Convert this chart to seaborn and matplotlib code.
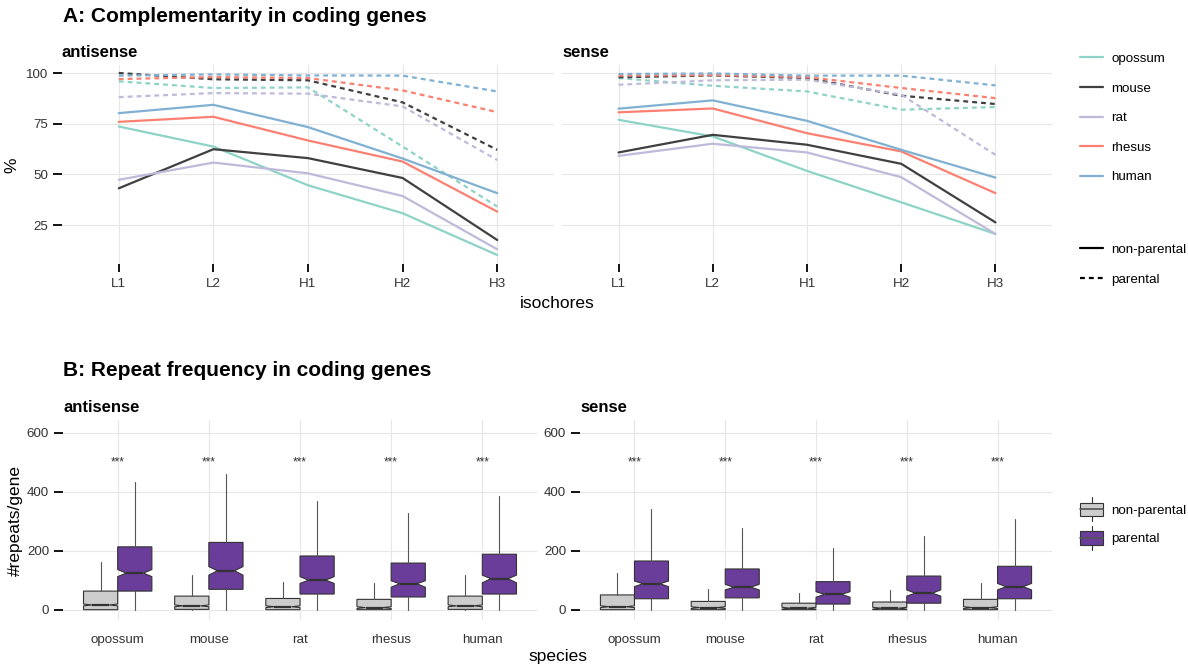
import numpy as np
import pandas as pd
import matplotlib
matplotlib.use("Agg")
import matplotlib.pyplot as plt
import seaborn as sns
from matplotlib.lines import Line2D
from matplotlib.patches import Rectangle, Patch
from matplotlib.legend_handler import HandlerBase

# ---- datos ----
species = ["opossum", "mouse", "rat", "rhesus", "human"]
isochores = ["L1", "L2", "H1", "H2", "H3"]
species_colors = ["#8DD3C7", "#404040", "#BEBADA", "#FB8072", "#80B1D3"]

# A: % complementariedad por isocora
anti_nonparental = {
    "opossum": [73.6, 63.7, 44.6, 30.8, 10.2],
    "mouse": [43.1, 62.4, 58.0, 48.2, 17.6],
    "rat": [47.3, 55.8, 50.5, 39.3, 13.0],
    "rhesus": [75.9, 78.4, 66.7, 56.3, 31.6],
    "human": [80.2, 84.3, 73.3, 57.8, 40.7],
}
anti_parental = {
    "opossum": [95.9, 92.6, 92.9, 63.7, 34.1],
    "mouse": [100.0, 96.9, 96.4, 85.5, 62.1],
    "rat": [88.1, 90.1, 89.8, 83.5, 57.1],
    "rhesus": [97.0, 98.0, 97.5, 91.4, 80.7],
    "human": [98.7, 99.3, 98.8, 98.7, 90.9],
}
sense_nonparental = {
    "opossum": [76.9, 68.7, 51.7, 36.2, 20.6],
    "mouse": [60.8, 69.5, 64.6, 55.2, 26.3],
    "rat": [59.1, 65.1, 60.8, 48.6, 20.6],
    "rhesus": [80.6, 82.5, 70.3, 61.3, 40.7],
    "human": [82.4, 86.5, 76.4, 62.1, 48.4],
}
sense_parental = {
    "opossum": [97.5, 93.7, 90.9, 81.9, 83.2],
    "mouse": [97.9, 98.8, 97.5, 88.8, 84.7],
    "rat": [94.2, 96.4, 96.7, 89.3, 59.6],
    "rhesus": [98.7, 99.0, 98.0, 92.6, 87.6],
    "human": [99.5, 99.8, 98.7, 98.7, 93.9],
}

# B: resumen de boxplots (#repeats/gene)
anti_np = dict(whislo=[0, 0, 0, 0, 0], q1=[1, 2, 1, 1, 2], med=[17, 14, 11, 8, 14],
               q3=[64, 47, 39, 36, 47], whishi=[161, 118, 96, 90, 118],
               cilo=[14, 11, 8, 5, 11], cihi=[20, 17, 14, 11, 17])
anti_p = dict(whislo=[0, 0, 0, 0, 0], q1=[64, 70, 54, 44, 54], med=[125, 133, 101, 89, 106],
              q3=[214, 229, 183, 159, 189], whishi=[434, 462, 370, 329, 386],
              cilo=[113, 118, 90, 77, 92], cihi=[137, 147, 113, 99, 118])
sense_np = dict(whislo=[0, 0, 0, 0, 0], q1=[1, 1, 1, 1, 1], med=[11, 8, 6, 6, 8],
                q3=[51, 29, 23, 27, 36], whishi=[126, 71, 59, 68, 90],
                cilo=[8, 5, 3, 3, 5], cihi=[14, 11, 9, 9, 11])
sense_p = dict(whislo=[0, 0, 0, 0, 0], q1=[38, 41, 20, 23, 38], med=[89, 77, 53, 57, 79],
               q3=[166, 139, 96, 115, 148], whishi=[342, 279, 211, 252, 308],
               cilo=[79, 68, 43, 47, 68], cihi=[98, 87, 62, 68, 90])
signif_anti = ["***", "***", "***", "***", "***"]
signif_sense = ["***", "***", "***", "***", "***"]

groups = ["non-parental", "parental"]
group_fill = {"non-parental": "#CCCCCC", "parental": "#6A3D9A"}

sns.set_theme(style="whitegrid")
plt.rcParams["font.family"] = ["Liberation Sans", "DejaVu Sans"]
plt.rcParams["text.color"] = "black"

W, H = 1188, 667
fig = plt.figure(figsize=(W / 100, H / 100), dpi=100)

TICK_FS = 9.6


def caja(x0, y0, x1, y1):
    # rectangulo en pixeles -> fraccion de figura
    return [x0 / W, 1 - y1 / H, (x1 - x0) / W, (y1 - y0) / H]


def estilo_ejes(ax, xticks=True):
    for s in ax.spines.values():
        s.set_visible(False)
    ax.grid(True, color="#E6E6E6", lw=0.8)
    ax.set_axisbelow(True)
    ax.tick_params(axis="y", length=6.5, width=1.3, color="black", pad=3.5,
                   labelsize=TICK_FS, labelcolor="#333333", left=True)
    if xticks:
        ax.tick_params(axis="x", length=6, width=1.3, color="black", pad=4,
                       labelsize=TICK_FS, labelcolor="#333333", bottom=True)
    else:
        ax.tick_params(axis="x", length=0, pad=10, labelsize=TICK_FS, labelcolor="#333333")
    ax.set_xlabel("")
    ax.set_ylabel("")


def tabla_lineas(nonpar, par):
    filas = []
    for tipo, d in [("non-parental", nonpar), ("parental", par)]:
        for sp in species:
            for iso, v in zip(isochores, d[sp]):
                filas.append({"isochore": iso, "pct": v, "species": sp, "type": tipo})
    return pd.DataFrame(filas)


# ---- Panel A ----
axA1 = fig.add_axes(caja(62, 65, 554, 264))
axA2 = fig.add_axes(caja(562, 65, 1052, 264))
for ax, npar, par, nombre in [(axA1, anti_nonparental, anti_parental, "antisense"),
                              (axA2, sense_nonparental, sense_parental, "sense")]:
    df = tabla_lineas(npar, par)
    sns.lineplot(data=df, x="isochore", y="pct", hue="species", style="type",
                 hue_order=species, style_order=groups,
                 palette=dict(zip(species, species_colors)),
                 dashes={"non-parental": "", "parental": (2.2, 1.8)},
                 linewidth=1.6, legend=False, sort=False, ax=ax)
    ax.set_xlim(-0.6, 4.6)
    ax.set_ylim(5.76, 103.95)
    ax.set_yticks([25, 50, 75, 100])
    estilo_ejes(ax)
    ax.set_title(nombre, loc="left", fontsize=12, fontweight="bold", pad=6)
axA2.set_yticklabels([])
axA2.tick_params(axis="y", length=0)


# ---- Panel B ----
def dibujar_cajas(ax, d, offset, fill):
    stats = []
    for i in range(len(species)):
        stats.append({k: d[k][i] for k in ["whislo", "q1", "med", "q3", "whishi", "cilo", "cihi"]})
    ax.bxp(stats, positions=np.arange(len(species)) + offset, widths=0.375,
           shownotches=True, showcaps=False, showfliers=False, patch_artist=True,
           boxprops=dict(facecolor=fill, edgecolor="#333333", lw=0.8),
           medianprops=dict(color="#333333", lw=1.6),
           whiskerprops=dict(color="#555555", lw=0.8), manage_ticks=False)


axB1 = fig.add_axes(caja(63, 420, 537, 620))
axB2 = fig.add_axes(caja(580, 420, 1052, 620))
for ax, dnp, dp, stars, nombre in [(axB1, anti_np, anti_p, signif_anti, "antisense"),
                                   (axB2, sense_np, sense_p, signif_sense, "sense")]:
    dibujar_cajas(ax, dnp, -0.1875, group_fill["non-parental"])
    dibujar_cajas(ax, dp, 0.1875, group_fill["parental"])
    for i, s in enumerate(stars):
        ax.text(i, 500, s, ha="center", va="center", fontsize=8.5, color="#333333")
    ax.set_xlim(-0.6, 4.6)
    ax.set_ylim(-34, 644)
    ax.set_xticks(np.arange(len(species)))
    ax.set_xticklabels(species)
    ax.set_yticks([0, 200, 400, 600])
    estilo_ejes(ax, xticks=False)
    ax.set_title(nombre, loc="left", fontsize=12, fontweight="bold", pad=6)

# ---- textos ----
fig.text(63 / W, 1 - 16 / H, "A: Complementarity in coding genes", fontsize=15,
         fontweight="bold", va="center", ha="left")
fig.text(63 / W, 1 - 370 / H, "B: Repeat frequency in coding genes", fontsize=15,
         fontweight="bold", va="center", ha="left")
fig.text(12 / W, 1 - 165 / H, "%", rotation=90, fontsize=12.5, va="center", ha="center")
fig.text(557 / W, 1 - 304 / H, "isochores", fontsize=12.5, va="center", ha="center")
fig.text(15 / W, 1 - 520 / H, "#repeats/gene", rotation=90, fontsize=12.5, va="center", ha="center")
fig.text(558 / W, 1 - 656 / H, "species", fontsize=12.5, va="center", ha="center")

# ---- leyendas ----
h_species = [Line2D([], [], color=c, lw=1.6) for c in species_colors]
leg1 = fig.legend(h_species, species, loc="center left", bbox_to_anchor=(1080 / W, 1 - 118 / H),
                  frameon=False, fontsize=TICK_FS, borderpad=0, borderaxespad=0,
                  handlelength=1.75, handletextpad=0.6, labelspacing=1.3)
h_tipo = [Line2D([], [], color="black", lw=1.6),
          Line2D([], [], color="black", lw=1.6, dashes=(2.2, 1.8))]
leg2 = fig.legend(h_tipo, groups, loc="center left", bbox_to_anchor=(1080 / W, 1 - 264.5 / H),
                  frameon=False, fontsize=TICK_FS, borderpad=0, borderaxespad=0,
                  handlelength=1.75, handletextpad=0.6, labelspacing=1.3)


class HandlerCaja(HandlerBase):
    def create_artists(self, legend, orig_handle, xdescent, ydescent, width, height,
                       fontsize, trans):
        x0, y0 = -xdescent, -ydescent
        fc = orig_handle.get_facecolor()
        rect = Rectangle((x0, y0), width, height, facecolor=fc, edgecolor="#333333",
                         lw=0.8, transform=trans)
        med = Line2D([x0, x0 + width], [y0 + height / 2] * 2, color="#555555", lw=1.2,
                     transform=trans)
        xm = x0 + width / 2
        w_top = Line2D([xm, xm], [y0 + height, y0 + height * 1.4], color="#333333", lw=0.8,
                       transform=trans)
        w_bot = Line2D([xm, xm], [y0, y0 - height * 0.4], color="#333333", lw=0.8,
                       transform=trans)
        return [rect, med, w_top, w_bot]


h_cajas = [Patch(facecolor=group_fill[g]) for g in groups]
fig.legend(h_cajas, groups, loc="center left", bbox_to_anchor=(1080 / W, 1 - 524 / H),
           frameon=False, fontsize=TICK_FS, borderpad=0, borderaxespad=0,
           handlelength=1.75, handleheight=1.15, handletextpad=0.6, labelspacing=1.1,
           handler_map={Patch: HandlerCaja()})

fig.savefig("out.png", dpi=100)
